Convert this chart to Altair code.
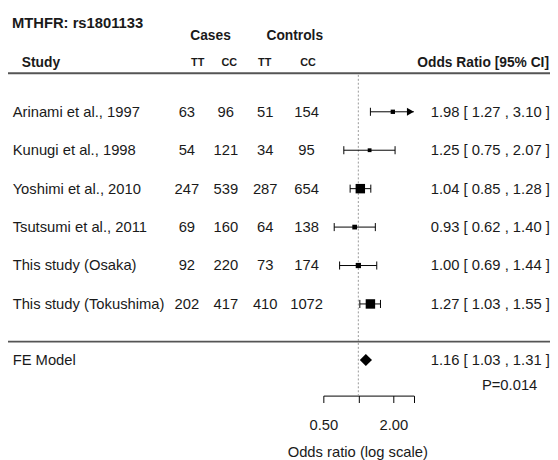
import altair as alt
import pandas as pd
import numpy as np

# ---------------- data ----------------
studies = ["Arinami et al., 1997", "Kunugi et al., 1998", "Yoshimi et al., 2010",
           "Tsutsumi et al., 2011", "This study (Osaka)", "This study (Tokushima)"]
cases_tt = [63, 54, 247, 69, 92, 202]
cases_cc = [96, 121, 539, 160, 220, 417]
controls_tt = [51, 34, 287, 64, 73, 410]
controls_cc = [154, 95, 654, 138, 174, 1072]
or_est = [1.98, 1.25, 1.04, 0.93, 1.00, 1.27]
ci_low = [1.27, 0.75, 0.85, 0.62, 0.69, 1.03]
ci_high = [3.10, 2.07, 1.28, 1.40, 1.44, 1.55]
fe_est, fe_low, fe_high = 1.16, 1.03, 1.31
fe_p_text = "P=0.014"
axis_ticks = [0.5, 1, 2, 3]
title_text = "MTHFR: rs1801133"

# ---------------- layout ----------------
FONT = "Liberation Sans"
TXT = "#1a1a1a"
W, H = 550, 390
rows = [6, 5, 4, 3, 2, 1]
X_MIN, X_MAX = 0.5, 3.0
xscale = alt.Scale(type="log", domain=[X_MIN, X_MAX], range=[320, 411.8])
yscale = alt.Scale(domain=[-1.385, 8.615], nice=False, zero=False)
xaxis = alt.Axis(values=axis_ticks,
                 labelExpr="datum.value == 0.5 ? '0.50' : (datum.value == 2 ? '2.00' : '')",
                 tickSize=7, tickColor="black", domainColor="black", tickWidth=1, domainWidth=1,
                 labelFont=FONT, labelFontSize=15, labelColor=TXT, labelBaseline="middle",
                 labelPadding=22, labelFlush=False, labelOverlap=False, grid=False,
                 title="Odds ratio (log scale)", titleFont=FONT, titleFontSize=15,
                 titleFontWeight="normal", titleColor=TXT, titleX=354.5, titleY=57,
                 titleBaseline="middle", titleAlign="center", titleAnchor="start")

Y = lambda f: alt.Y(f, scale=yscale, axis=None)
X = lambda f: alt.X(f, scale=xscale, axis=xaxis)

df = pd.DataFrame({
    "study": studies, "row": rows,
    "ctt": cases_tt, "ccc": cases_cc, "ktt": controls_tt, "kcc": controls_cc,
    "est": or_est, "lo": ci_low, "hi": ci_high,
})
df["hi_clip"] = np.minimum(df["hi"], X_MAX)
df["label"] = [f"{e:.2f} [ {l:.2f} , {h:.2f} ]" for e, l, h in zip(or_est, ci_low, ci_high)]
se = (np.log(df["hi"]) - np.log(df["lo"])) / (2 * 1.959964)
df["weight"] = 1.0 / se ** 2

CAP = 0.105
caps = pd.concat([
    pd.DataFrame({"x": df["lo"], "row": df["row"]}),
    pd.DataFrame({"x": df["hi"], "row": df["row"]})[df["hi"] <= X_MAX],
])
caps["y1"] = caps["row"] + CAP
caps["y2"] = caps["row"] - CAP
arrows = df[df["hi"] > X_MAX]

FE_ROW = -0.46
DH = 0.155
diamond = pd.DataFrame({"x": [fe_low, fe_est, fe_high],
                        "y1": [FE_ROW, FE_ROW + DH, FE_ROW],
                        "y2": [FE_ROW, FE_ROW - DH, FE_ROW]})

layers = []

# horizontal separator lines
lines = pd.DataFrame({"row": [7.0, 0.02]})
layers.append(alt.Chart(lines).mark_rule(color="#555", strokeWidth=2).encode(
    y=Y("row:Q"), x=alt.value(0), x2=alt.value(W)))

# dotted reference line at OR = 1
ref = pd.DataFrame({"x": [1.0], "y1": [6.96], "y2": [-1.385]})
layers.append(alt.Chart(ref).mark_rule(color="#999", strokeDash=[2, 2], strokeWidth=1).encode(
    x=X("x:Q"), y=Y("y1:Q"), y2="y2:Q"))

# CI lines
layers.append(alt.Chart(df).mark_rule(color="black", strokeWidth=1).encode(
    x=X("lo:Q"), x2="hi_clip:Q", y=Y("row:Q")))
# caps
layers.append(alt.Chart(caps).mark_rule(color="black", strokeWidth=1).encode(
    x=X("x:Q"), y=Y("y1:Q"), y2="y2:Q"))
# arrows for truncated CIs
layers.append(alt.Chart(arrows).mark_point(
    shape="M0,0L-1.75,-1L-1.75,1Z", filled=True, size=64, color="black", opacity=1).encode(
    x=X("hi_clip:Q"), y=Y("row:Q")))
# squares
layers.append(alt.Chart(df).mark_square(color="black", opacity=1).encode(
    x=X("est:Q"), y=Y("row:Q"), size=alt.Size("weight:Q", scale=None, legend=None)))
# FE diamond
layers.append(alt.Chart(diamond).mark_area(color="black", orient="vertical").encode(
    x=X("x:Q"), y=Y("y1:Q"), y2="y2:Q"))


def txt(data, field, xpx, align="left", size=15, weight="normal", ycol="row"):
    return alt.Chart(data).mark_text(align=align, baseline="middle", font=FONT, fontSize=size,
                                     fontWeight=weight, color=TXT).encode(
        x=alt.value(xpx), y=Y(f"{ycol}:Q"), text=f"{field}:N")


# table body
layers.append(txt(df, "study", 4.7))
layers.append(txt(df, "ctt", 181.5, "center"))
layers.append(txt(df, "ccc", 221, "center"))
layers.append(txt(df, "ktt", 261, "center"))
layers.append(txt(df, "kcc", 303, "center"))
layers.append(txt(df, "label", 429))

# FE row
fe = pd.DataFrame({"name": ["FE Model"], "label": [f"{fe_est:.2f} [ {fe_low:.2f} , {fe_high:.2f} ]"],
                   "row": [FE_ROW]})
layers.append(txt(fe, "name", 4.7))
layers.append(txt(fe, "label", 429))
pdf = pd.DataFrame({"p": [fe_p_text], "row": [-1.10]})
layers.append(txt(pdf, "p", 509, "center"))

# headers
hdr = lambda s, r: pd.DataFrame({"t": [s], "row": [r]})
layers.append(txt(hdr(title_text, 8.31), "t", 4, size=15, weight="bold"))
layers.append(txt(hdr("Cases", 7.97), "t", 205.5, "center", size=14, weight="bold"))
layers.append(txt(hdr("Controls", 7.97), "t", 291, "center", size=14, weight="bold"))
layers.append(txt(hdr("Study", 7.28), "t", 14, size=14, weight="bold"))
for lab, xp in [("TT", 192.5), ("CC", 224.5), ("TT", 260.5), ("CC", 304.5)]:
    layers.append(txt(hdr(lab, 7.28), "t", xp, "center", size=11, weight="bold"))
layers.append(txt(hdr("Odds Ratio [95% CI]", 7.28), "t", 549, "right", size=14, weight="bold"))

chart = alt.layer(*layers).properties(
    width=W, height=H,
    autosize=alt.AutoSizeParams(type="none"),
    padding={"left": 0, "top": 0, "right": 0, "bottom": 62},
    background="white",
).configure_view(strokeWidth=0)

chart.save("out.html", embed_options={"renderer": "svg", "actions": False})
